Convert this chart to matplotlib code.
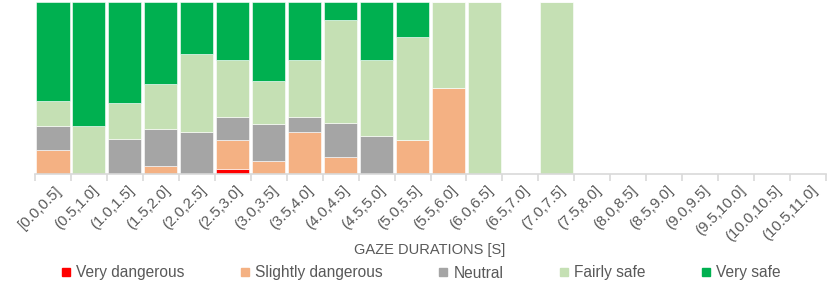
import numpy as np
import matplotlib
matplotlib.use("Agg")
import matplotlib.pyplot as plt
import matplotlib.transforms as mtransforms
from matplotlib.lines import Line2D

plt.rcParams['font.family'] = ['Liberation Sans', 'DejaVu Sans']

# Share of gaze ratings per gaze-duration bin (fractions of each bin)
categories = ['[0.0,0.5]', '(0.5,1.0]', '(1.0,1.5]', '(1.5,2.0]', '(2.0,2.5]', '(2.5,3.0]',
              '(3.0,3.5]', '(3.5,4.0]', '(4.0,4.5]', '(4.5,5.0]', '(5.0,5.5]', '(5.5,6.0]',
              '(6.0,6.5]', '(6.5,7.0]', '(7.0,7.5]', '(7.5,8.0]', '(8.0,8.5]', '(8.5,9.0]',
              '(9.0,9.5]', '(9.5,10.0]', '(10.0,10.5]', '(10.5,11.0]']
very_dangerous = [0, 0, 0, 0, 0, 0.029, 0, 0, 0, 0, 0, 0, 0, 0, 0, 0, 0, 0, 0, 0, 0, 0]
slightly_dangerous = [0.139, 0, 0, 0.049, 0, 0.168, 0.078, 0.246, 0.096, 0, 0.197, 0.498,
                      0, 0, 0, 0, 0, 0, 0, 0, 0, 0]
neutral = [0.142, 0, 0.203, 0.211, 0.246, 0.133, 0.211, 0.084, 0.201, 0.219, 0, 0,
           0, 0, 0, 0, 0, 0, 0, 0, 0, 0]
fairly_safe = [0.145, 0.281, 0.207, 0.265, 0.453, 0.334, 0.250, 0.334, 0.601, 0.445, 0.602, 0.502,
               1, 0, 1, 0, 0, 0, 0, 0, 0, 0]
very_safe = [0.574, 0.719, 0.590, 0.475, 0.301, 0.336, 0.461, 0.336, 0.102, 0.336, 0.201, 0,
             0, 0, 0, 0, 0, 0, 0, 0, 0, 0]

series = [
    ('Very dangerous', very_dangerous, '#FF0000'),
    ('Slightly dangerous', slightly_dangerous, '#F4B183'),
    ('Neutral', neutral, '#A5A5A5'),
    ('Fairly safe', fairly_safe, '#C5E0B4'),
    ('Very safe', very_safe, '#00B050'),
]

text_color = '#595959'
axis_color = '#D9D9D9'

fig = plt.figure(figsize=(8.31, 2.84), dpi=100)
ax = fig.add_axes([35 / 831, 1 - 174 / 284, 791 / 831, 172 / 284])

x = np.arange(len(categories))
bottom = np.zeros(len(categories))
handles = []
for name, vals, color in series:
    vals = np.array(vals, dtype=float)
    ax.bar(x, vals, width=0.92, bottom=bottom, color=color, edgecolor='white', linewidth=0.4)
    bottom += vals
    handles.append(Line2D([], [], linestyle='none', marker='s', markersize=5.8,
                          markerfacecolor=color, markeredgecolor=color, label=name))

ax.set_xlim(-0.5, len(categories) - 0.5)
ax.set_ylim(0, 1)
ax.set_yticks([])
for side in ['left', 'right', 'top']:
    ax.spines[side].set_visible(False)
ax.spines['bottom'].set_color(axis_color)
ax.spines['bottom'].set_linewidth(1.2)

# tick marks between categories, labels at centers
ax.set_xticks(np.arange(len(categories) + 1) - 0.5)
ax.set_xticklabels([])
ax.tick_params(axis='x', which='major', length=5, width=1.2, color=axis_color)
ax.set_xticks(x, minor=True)
ax.set_xticklabels(categories, minor=True, rotation=45, ha='right', va='top',
                   rotation_mode='anchor', fontsize=10.8, color=text_color)
ax.tick_params(axis='x', which='minor', length=0, pad=6.5)
offset = mtransforms.ScaledTranslation(2 / 100, 0, fig.dpi_scale_trans)
for lbl in ax.get_xticklabels(minor=True):
    lbl.set_transform(lbl.get_transform() + offset)

fig.text(430 / 831, 1 - 250 / 284, 'GAZE DURATIONS [S]', ha='center', va='center',
         fontsize=10.5, color=text_color)

leg = fig.legend(handles=handles, loc='center', bbox_to_anchor=(421 / 831, 1 - 273 / 284),
                 ncol=5, frameon=False, fontsize=11.2, handlelength=0.6,
                 handletextpad=0.35, columnspacing=3.6, borderaxespad=0)
for t in leg.get_texts():
    t.set_color(text_color)

fig.savefig('out.png', dpi=100)
